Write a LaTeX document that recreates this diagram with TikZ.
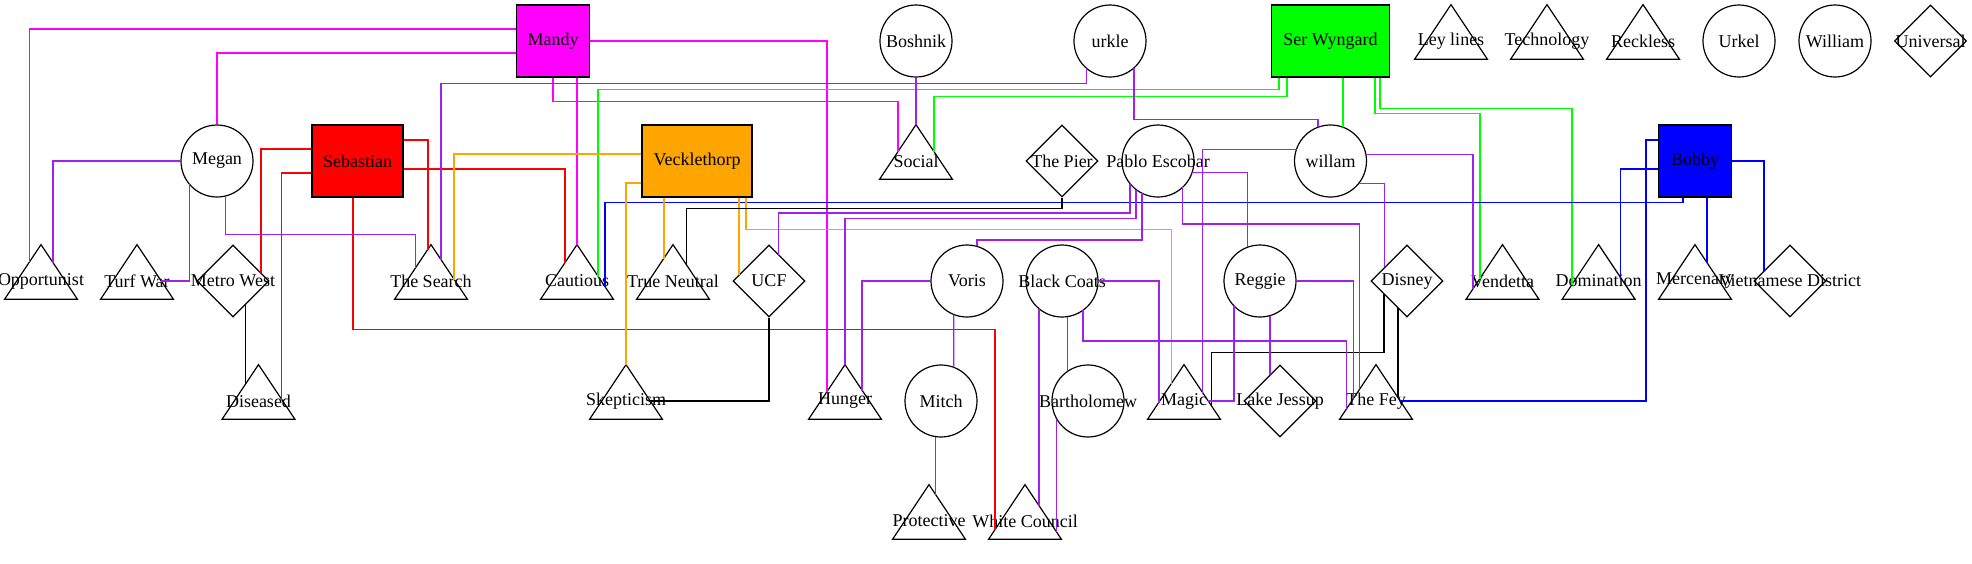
\documentclass[tikz,border=0pt]{standalone}
\usepackage{fontspec}
\setmainfont{Liberation Serif}
\usetikzlibrary{calc,shapes.geometric}
\definecolor{mandycol}{HTML}{FF00FF}
\definecolor{sebcol}{HTML}{FF0000}
\definecolor{veckcol}{HTML}{FFA500}
\definecolor{sercol}{HTML}{00FF00}
\definecolor{bobcol}{HTML}{0000FF}
\definecolor{purpcol}{HTML}{A020F0}

\begin{document}
\begin{tikzpicture}[x=0.5pt, y=-0.5pt,
    every node/.style={font=\fontsize{9}{10}\selectfont, inner sep=0pt},
    nodeline/.style={draw=black, line width=0.6pt},
    circ/.style={circle, nodeline, minimum size=36pt},
    dia/.style={diamond, nodeline, minimum width=36pt, minimum height=36pt},
    tri/.style={rectangle, minimum width=36pt, minimum height=36pt},
    boxnode/.style={rectangle, nodeline, minimum height=36pt, fill=#1},
    mandyedge/.style={draw=mandycol, line width=0.6pt},
    sebedge/.style={draw=sebcol, line width=0.6pt},
    veckedge/.style={draw=veckcol, line width=0.6pt},
    seredge/.style={draw=sercol, line width=0.6pt},
    bobedge/.style={draw=bobcol, line width=0.6pt},
    purpedge/.style={draw=purpcol, line width=0.6pt},
    blackedge/.style={draw=black, line width=0.6pt}]
  \useasboundingbox (0,0) rectangle (1972,563);
  % first row
  \node[boxnode=mandycol, minimum width=36.75pt] (Mandy) at (553,41) {Mandy};
  \node[circ] (Boshnik) at (916,41) {\makebox[0pt]{Boshnik}};
  \node[circ] (urkle) at (1110,41) {\makebox[0pt]{urkle}};
  \node[boxnode=sercol, minimum width=59pt] (SerWyngard) at (1330.5,41) {Ser Wyngard};
  \node[tri] (Leylines) at (1451,41) {\makebox[0pt]{Ley lines}};
  \node[tri] (Technology) at (1547,41) {\makebox[0pt]{Technology}};
  \node[tri] (Reckless) at (1643,41) {\makebox[0pt]{Reckless}};
  \node[circ] (Urkel) at (1739,41) {\makebox[0pt]{Urkel}};
  \node[circ] (William) at (1835,41) {\makebox[0pt]{William}};
  \node[dia] (Universal) at (1930.5,41) {\makebox[0pt]{Universal}};
  % second row
  \node[circ] (Megan) at (217,161) {\makebox[0pt]{Megan}};
  \node[boxnode=sebcol, minimum width=45.5pt] (Sebastian) at (357.5,161) {Sebastian};
  \node[boxnode=veckcol, minimum width=55pt] (Vecklethorp) at (697,161) {Vecklethorp};
  \node[tri] (Social) at (916,161) {\makebox[0pt]{Social}};
  \node[dia] (ThePier) at (1062,161) {\makebox[0pt]{The Pier}};
  \node[circ] (Pablo) at (1158,161) {\makebox[0pt]{Pablo Escobar}};
  \node[circ] (willam) at (1330.5,161) {\makebox[0pt]{willam}};
  \node[boxnode=bobcol, minimum width=36.25pt] (Bobby) at (1695,161) {Bobby};
  % third row
  \node[tri] (Opportunist) at (41,281) {\makebox[0pt]{Opportunist}};
  \node[tri] (TurfWar) at (137,281) {\makebox[0pt]{Turf War}};
  \node[dia] (MetroWest) at (233,281) {\makebox[0pt]{Metro West}};
  \node[tri] (TheSearch) at (431,281) {\makebox[0pt]{The Search}};
  \node[tri] (Cautious) at (577,281) {\makebox[0pt]{Cautious}};
  \node[tri] (TrueNeutral) at (673,281) {\makebox[0pt]{True Neutral}};
  \node[dia] (UCF) at (769,281) {\makebox[0pt]{UCF}};
  \node[circ] (Voris) at (967,281) {\makebox[0pt]{Voris}};
  \node[circ] (BlackCoats) at (1062,281) {\makebox[0pt]{Black Coats}};
  \node[circ] (Reggie) at (1260,281) {\makebox[0pt]{Reggie}};
  \node[dia] (Disney) at (1407,281) {\makebox[0pt]{Disney}};
  \node[tri] (Vendetta) at (1502.5,281) {\makebox[0pt]{Vendetta}};
  \node[tri] (Domination) at (1598.6,281) {\makebox[0pt]{Domination}};
  \node[tri] (Mercenary) at (1695,281) {\makebox[0pt]{Mercenary}};
  \node[dia] (Vietnamese) at (1790,281) {\makebox[0pt]{Vietnamese District}};
  % fourth and fifth row
  \node[tri] (Diseased) at (258.5,401) {\makebox[0pt]{Diseased}};
  \node[tri] (Skepticism) at (626,401) {\makebox[0pt]{Skepticism}};
  \node[tri] (Hunger) at (845,401) {\makebox[0pt]{Hunger}};
  \node[circ] (Mitch) at (941,401) {\makebox[0pt]{Mitch}};
  \node[circ] (Bartholomew) at (1088,401) {\makebox[0pt]{Bartholomew}};
  \node[tri] (Magic) at (1184,401) {\makebox[0pt]{Magic}};
  \node[dia] (LakeJessup) at (1280,401) {\makebox[0pt]{Lake Jessup}};
  \node[tri] (TheFey) at (1376,401) {\makebox[0pt]{The Fey}};
  \node[tri] (Protective) at (929,521) {\makebox[0pt]{Protective}};
  \node[tri] (WhiteCouncil) at (1025,521) {\makebox[0pt]{White Council}};
  % triangle outlines
  \foreach \t in {Leylines,Technology,Reckless,Social,Opportunist,TurfWar,TheSearch,Cautious,TrueNeutral,Vendetta,Domination,Mercenary,Diseased,Skepticism,Hunger,Magic,TheFey,Protective,WhiteCouncil}
    \draw[nodeline] (\t.north) -- ($(\t.east)!.5!(\t.south east)$) -- ($(\t.west)!.5!(\t.south west)$) -- cycle;
  % Mandy
  \draw[mandyedge] ($(Mandy.west)+(0,-12)$) -| ($(Opportunist)+(-11.5,-19)$);
  \draw[mandyedge] ($(Mandy.west)+(0,12)$) -| (Megan);
  \draw[mandyedge] (Mandy.east) -| ($(Hunger)+(-18,-9)$);
  \draw[mandyedge] (Mandy.south) -- ++(0,24) -| ($(Social)+(-18,-9)$);
  \draw[mandyedge] (Cautious.north |- Mandy.south) -- (Cautious.north);
  % Ser Wyngard
  \draw[seredge] ($(SerWyngard.south)+(-51.5,0)$) -- ++(0,12) -| ($(Cautious)+(21,-4.5)$);
  \draw[seredge] ($(SerWyngard.south)+(-43.5,0)$) -- ++(0,19) -| ($(Social)+(18,-9)$);
  \draw[seredge] ($(SerWyngard.south)+(12.5,0)$) -- ($(willam)+(12.5,-33.8)$);
  \draw[seredge] ($(SerWyngard.south)+(44.5,0)$) -- ++(0,36) -| ($(Vendetta)+(-22.5,-2.25)$);
  \draw[seredge] ($(SerWyngard.south)+(49.5,0)$) -- ++(0,31) -| ($(Domination)+(-26.6,3.9)$);
  % Bobby
  \draw[bobedge] ($(Bobby.south)+(-12,0)$) -- ++(0,5) -| ($(Cautious)+(28,6)$);
  \draw[bobedge] ($(Bobby.west)+(0,-21)$) -- ++(-12.25,0) |- ($(TheFey)+(24,0)$);
  \draw[bobedge] ($(Bobby.west)+(0,8)$) -| ($(Domination)+(22.1,-3)$);
  \draw[bobedge] ($(Bobby.south)+(12,0)$) -- ($(Mercenary)+(12,-18)$);
  \draw[bobedge] (Bobby.east) -| ($(Vietnamese)+(-26,-10)$);
  % Sebastian
  \draw[sebedge] ($(Sebastian.west)+(0,-12)$) -| ($(MetroWest)+(28,-8)$);
  \draw[sebedge] ($(Sebastian.west)+(0,12)$) -| ($(Diseased)+(23,-1.5)$);
  \draw[sebedge] ($(Sebastian.south)+(-4.5,0)$) -- ++(0,132) -| ($(WhiteCouncil)+(-30,9)$);
  \draw[sebedge] ($(Sebastian.east)+(0,-21)$) -| ($(TheSearch)+(-3,-31.5)$);
  \draw[sebedge] ($(Sebastian.east)+(0,8)$) -| ($(Cautious)+(-12,-18)$);
  % Vecklethorp
  \draw[veckedge] ($(Vecklethorp.west)+(0,-7)$) -| ($(TheSearch)+(23,-1.5)$);
  \draw[veckedge] ($(Vecklethorp.west)+(0,22)$) -| (Skepticism.north);
  \draw[veckedge] ($(Vecklethorp.south)+(-33,0)$) -- ($(TrueNeutral)+(-9,-22.5)$);
  \draw[veckedge] ($(Vecklethorp.south)+(42,0)$) -- ($(UCF)+(-30,-6)$);
  \draw[veckedge] ($(Vecklethorp.south)+(49,0)$) -- ++(0,32) -| ($(Magic)+(-12.6,-17.1)$);
  % black ones
  \draw[blackedge] (ThePier.south) -- ++(0,10.7) -| ($(TrueNeutral)+(13.7,-15.5)$);
  \draw[blackedge] ($(MetroWest)+(12.5,23.5)$) -- ($(Diseased)+(-13,-16.5)$);
  \draw[blackedge] (UCF.south) |- ($(Skepticism)+(24,0)$);
  \draw[blackedge] ($(Disney)+(-23,13)$) -- ++(0,58.7) -| ($(Magic)+(27.7,5.5)$);
  \draw[blackedge] ($(Disney)+(-9,27)$) -- ($(TheFey)+(22,-3)$);
  % purple ones
  \draw[purpedge] (Boshnik.south) -- (Social.north);
  \draw[purpedge] ($(urkle)+(-23.4,27.4)$) -- ++(0,15) -| ($(TheSearch)+(10,-21)$);
  \draw[purpedge] ($(urkle)+(24,26.8)$) -- ++(0,51.5) -| ($(willam)+(-12.5,-33.8)$);
  \draw[purpedge] (Megan.west) -| ($(Opportunist)+(12,-18)$);
  \draw[purpedge] ($(Megan)+(-27.6,23.1)$) |- ($(TurfWar)+(24,0)$);
  \draw[purpedge] ($(Megan)+(8.6,35)$) -- ++(0,38.7) -| ($(TheSearch)+(-15.6,-12.6)$);
  \draw[purpedge] ($(Pablo)+(-28,22.6)$) -- ++(0,29.4) -| ($(UCF)+(9.7,-26.3)$);
  \draw[purpedge] ($(Pablo)+(-22,28.5)$) -- ++(0,29.2) -| (Hunger.north);
  \draw[purpedge] ($(Pablo)+(-16,32.2)$) -- ++(0,46.8) -| ($(Voris)+(10,-34.6)$);
  \draw[purpedge] ($(Pablo)+(34,11.7)$) -| ($(Reggie)+(-12.3,-33.8)$);
  \draw[purpedge] ($(Pablo)+(24.7,26.2)$) -- ++(0,36.8) -| ($(TheFey)+(-16.2,-11.7)$);
  \draw[purpedge] (Voris.west) -| ($(Hunger)+(17,-10.5)$);
  \draw[purpedge] ($(Voris)+(-13.3,33.5)$) -- ($(Mitch)+(12.7,-33.7)$);
  \draw[purpedge] ($(Mitch)+(-5.5,35.6)$) -- ($(Protective)+(6.5,-26.25)$);
  \draw[purpedge] ($(BlackCoats)+(-23,27.7)$) -- ($(WhiteCouncil)+(14,-15)$);
  \draw[purpedge] ($(Bartholomew)+(-31.4,17.6)$) -- ($(WhiteCouncil)+(31.6,11.4)$);
  \draw[purpedge] ($(BlackCoats)+(5.6,35.6)$) -- ($(Bartholomew)+(-20.4,-29.7)$);
  \draw[purpedge] (BlackCoats.east) -| ($(Magic)+(-25,1.5)$);
  \draw[purpedge] ($(BlackCoats)+(21,29.2)$) -- ++(0,30.8) -| ($(TheFey)+(-29.6,8.4)$);
  \draw[purpedge] ($(Reggie)+(-26,24.9)$) |- ($(Magic)+(24,0)$);
  \draw[purpedge] ($(Reggie)+(10,34.6)$) -- ($(LakeJessup)+(-10,-26)$);
  \draw[purpedge] (Reggie.east) -| ($(TheFey)+(-22.5,-2.25)$);
  \draw[purpedge] ($(willam)+(-34,-11.7)$) -| ($(Magic)+(18.6,-8.1)$);
  \draw[purpedge] ($(willam)+(35.4,-6.7)$) -| ($(Vendetta)+(-29.5,8.25)$);
  \draw[purpedge] ($(willam)+(28.3,22.3)$) -| ($(Disney)+(-22.3,-13.7)$);
\end{tikzpicture}
\end{document}
